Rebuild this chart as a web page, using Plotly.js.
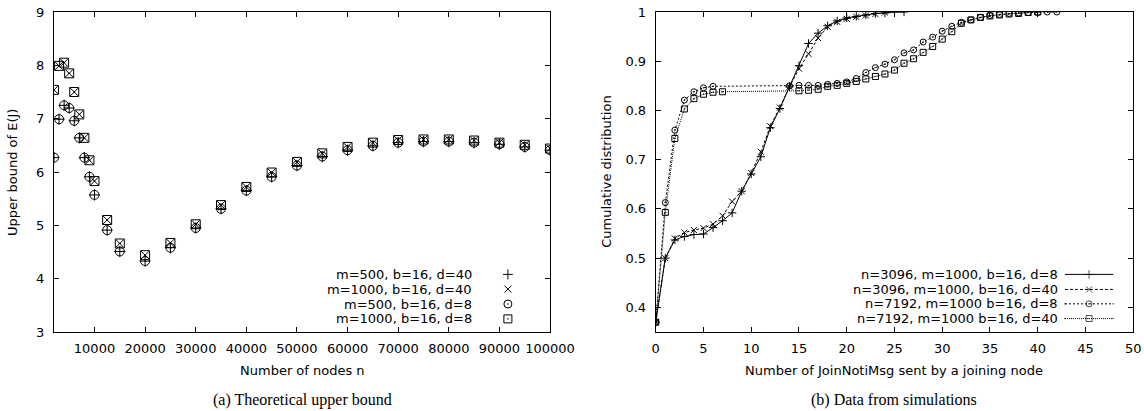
<!DOCTYPE html>
<html><head><meta charset="utf-8">
<script src="https://cdn.plot.ly/plotly-3.0.1.min.js"></script>
<style>html,body{margin:0;padding:0;background:#fff}#chart{width:1144px;height:411px}</style>
</head><body><div id="chart"></div>
<script>
// ---------- Left chart data: theoretical upper bound ----------
const nodesN = [2000,3000,4000,5000,6000,7000,8000,9000,10000,12500,15000,20000,25000,30000,35000,40000,45000,50000,55000,60000,65000,70000,75000,80000,85000,90000,95000,100000];
const ubM500D40  = [6.27,6.99,7.25,7.20,6.96,6.64,6.27,5.91,5.57,4.91,4.51,4.33,4.58,4.95,5.31,5.65,5.91,6.12,6.29,6.41,6.49,6.55,6.57,6.57,6.55,6.52,6.47,6.41];
const ubM1000D40 = [7.54,7.99,8.05,7.85,7.50,7.08,6.64,6.22,5.83,5.10,4.66,4.44,4.67,5.02,5.38,5.72,5.99,6.19,6.35,6.47,6.55,6.60,6.61,6.61,6.59,6.55,6.51,6.44];
const ubM500D8   = [6.27,6.99,7.25,7.20,6.96,6.64,6.27,5.91,5.57,4.91,4.51,4.33,4.58,4.95,5.31,5.65,5.91,6.12,6.29,6.41,6.49,6.55,6.57,6.57,6.55,6.52,6.47,6.41];
const ubM1000D8  = [7.54,7.99,8.05,7.85,7.50,7.08,6.64,6.22,5.83,5.10,4.66,4.44,4.67,5.02,5.38,5.72,5.99,6.19,6.35,6.47,6.55,6.60,6.61,6.61,6.59,6.55,6.51,6.44];
const leftNames = ['m=500, b=16, d=40','m=1000, b=16, d=40','m=500, b=16, d=8','m=1000, b=16, d=8'];
const leftTicksX = [10000,20000,30000,40000,50000,60000,70000,80000,90000,100000];
const leftTicksY = [3,4,5,6,7,8,9];

// ---------- Right chart data: simulations ----------
const msgX_3096_d8  = [0,1,2,3,4,5,6,7,8,9,10,11,12,13,14,15,16,17,18,19,20,21,22,23,24,25,26];
const cdf_3096_d8   = [0.37,0.50,0.537,0.544,0.548,0.549,0.562,0.576,0.592,0.636,0.671,0.706,0.765,0.804,0.848,0.891,0.936,0.957,0.972,0.982,0.988,0.991,0.994,0.997,0.998,1.0,1.0];
const msgX_3096_d40 = [0,1,2,3,4,5,6,7,8,9,10,11,12,13,14,15,16,17,18,19,20,21,22,23,24];
const cdf_3096_d40  = [0.37,0.50,0.54,0.552,0.557,0.561,0.569,0.586,0.615,0.636,0.673,0.716,0.768,0.806,0.848,0.885,0.915,0.947,0.970,0.980,0.986,0.990,0.993,0.996,0.999];
const msgX_7192_d8  = [0,1,2,3,4,5,6,14,15,16,17,18,19,20,21,22,23,24,25,26,27,28,29,30,31,32,33,34,35,36,37,38,39,40,41,42];
const cdf_7192_d8   = [0.37,0.613,0.760,0.821,0.838,0.846,0.849,0.850,0.851,0.851,0.851,0.853,0.855,0.858,0.865,0.877,0.887,0.894,0.903,0.917,0.923,0.939,0.949,0.961,0.971,0.979,0.984,0.989,0.993,0.995,0.997,0.998,0.999,0.999,1.0,1.0];
const msgX_7192_d40 = [0,1,2,3,4,5,6,7,15,16,17,18,19,20,21,22,23,24,25,26,27,28,29,30,31,32,33,34,35,36,37,38,39,40];
const cdf_7192_d40  = [0.37,0.593,0.743,0.803,0.824,0.833,0.837,0.838,0.840,0.841,0.843,0.849,0.851,0.855,0.859,0.864,0.869,0.874,0.882,0.896,0.905,0.918,0.930,0.945,0.960,0.977,0.984,0.989,0.992,0.994,0.996,0.997,0.999,1.0];
const rightNames = ['n=3096, m=1000, b=16, d=8','n=3096, m=1000, b=16, d=40','n=7192, m=1000 b=16, d=8','n=7192, m=1000 b=16, d=40'];
const rightTicksX = [0,5,10,15,20,25,30,35,40,45,50];
const rightTicksY = [0.4,0.5,0.6,0.7,0.8,0.9,1];

// ---------- styling ----------
const FONT = 'DejaVu Sans';
const leftRange = {x:[2000,100000], y:[3,9]};
const rightRange = {x:[0,50], y:[0.35,1]};
const leftStyles = [
  {symbol:'cross-thin-open', size:8},
  {symbol:'x-thin-open', size:8},
  {symbol:'circle-open-dot', size:9},
  {symbol:'square-open-dot', size:9}
];
const rightStyles = [
  {symbol:'cross-thin-open', size:6, dash:'solid', lw:1},
  {symbol:'x-thin-open', size:6, dash:'3px,2px', lw:1},
  {symbol:'circle-open-dot', size:6, dash:'2px,2px', lw:1},
  {symbol:'square-open-dot', size:6, dash:'1px,1px', lw:1}
];
const legRowsL = [0.180,0.134,0.0875,0.041];
const legRowsR = [0.180,0.133,0.088,0.042];

const traces = [];
const leftSeries = [ubM500D40, ubM1000D40, ubM500D8, ubM1000D8];
leftSeries.forEach((ys,i)=>{
  traces.push({x:nodesN, y:ys, xaxis:'x', yaxis:'y', mode:'markers', type:'scatter', showlegend:false,
    marker:{symbol:leftStyles[i].symbol, size:leftStyles[i].size, color:'#000', line:{color:'#000', width:1}}});
});
const rightX = [msgX_3096_d8, msgX_3096_d40, msgX_7192_d8, msgX_7192_d40];
const rightY = [cdf_3096_d8, cdf_3096_d40, cdf_7192_d8, cdf_7192_d40];
rightX.forEach((xs,i)=>{
  const s = rightStyles[i];
  traces.push({x:xs, y:rightY[i], xaxis:'x2', yaxis:'y2', mode:'lines+markers', type:'scatter', showlegend:false,
    line:{color:'#000', width:s.lw, dash:s.dash},
    marker:{symbol:s.symbol, size:s.size, color:'#000', line:{color:'#000', width:1}}});
});

// legend keys (gnuplot style: text then symbol)
const lerp = (r,f)=>r[0]+f*(r[1]-r[0]);
const annotations = [];
leftNames.forEach((name,i)=>{
  annotations.push({xref:'x domain', yref:'y domain', x:0.847, y:legRowsL[i], xanchor:'right', yanchor:'middle',
    text:name, showarrow:false, font:{family:FONT, size:13, color:'#000'}});
  traces.push({x:[lerp(leftRange.x,0.915)], y:[lerp(leftRange.y,legRowsL[i])], xaxis:'x', yaxis:'y', mode:'markers', showlegend:false,
    marker:{symbol:leftStyles[i].symbol, size:leftStyles[i].size-1, color:'#000', line:{color:'#000', width:1}}});
});
rightNames.forEach((name,i)=>{
  const s = rightStyles[i];
  annotations.push({xref:'x2 domain', yref:'y2 domain', x:0.8466, y:legRowsR[i], xanchor:'right', yanchor:'middle',
    text:name, showarrow:false, font:{family:FONT, size:13, color:'#000'}});
  const yy = lerp(rightRange.y, legRowsR[i]);
  traces.push({x:[lerp(rightRange.x,0.857), lerp(rightRange.x,0.9075), lerp(rightRange.x,0.958)], y:[yy,yy,yy],
    xaxis:'x2', yaxis:'y2', mode:'lines+markers', showlegend:false,
    line:{color:'#000', width:s.lw, dash:s.dash},
    marker:{symbol:s.symbol, size:[0,s.size,0], color:'#000', line:{color:'#000', width:1}}});
});

// axis titles and captions
annotations.push({xref:'x domain', yref:'paper', x:0.5, y:0, yshift:-38, xanchor:'center', yanchor:'middle', text:'Number of nodes n', showarrow:false, font:{family:FONT,size:13,color:'#000'}});
annotations.push({xref:'x2 domain', yref:'paper', x:0.5, y:0, yshift:-38, xanchor:'center', yanchor:'middle', text:'Number of JoinNotiMsg sent by a joining node', showarrow:false, font:{family:FONT,size:13,color:'#000'}});
annotations.push({xref:'x domain', yref:'y domain', x:0, y:0.5, xshift:-42, textangle:-90, xanchor:'center', yanchor:'middle', text:'Upper bound of E(J)', showarrow:false, font:{family:FONT,size:13,color:'#000'}});
annotations.push({xref:'x2 domain', yref:'y2 domain', x:0, y:0.5, xshift:-50, textangle:-90, xanchor:'center', yanchor:'middle', text:'Cumulative distribution', showarrow:false, font:{family:FONT,size:13,color:'#000'}});
annotations.push({xref:'x domain', yref:'paper', x:0.5, y:0, yshift:-68, xanchor:'center', yanchor:'middle', text:'(a) Theoretical upper bound', showarrow:false, font:{family:'Liberation Serif',size:16,color:'#000'}});
annotations.push({xref:'x2 domain', yref:'paper', x:0.5, y:0, yshift:-68, xanchor:'center', yanchor:'middle', text:'(b) Data from simulations', showarrow:false, font:{family:'Liberation Serif',size:16,color:'#000'}});

const axCommon = {showline:true, mirror:'allticks', linecolor:'#000', linewidth:1, ticks:'inside', ticklen:5, tickwidth:1, tickcolor:'#000',
  showgrid:false, zeroline:false, tickfont:{family:FONT, size:13, color:'#000'}, fixedrange:true};

const layout = {
  width:1144, height:411, paper_bgcolor:'#fff', plot_bgcolor:'#fff',
  margin:{l:0, r:0, t:12, b:79},
  showlegend:false,
  xaxis:Object.assign({}, axCommon, {domain:[0.0472,0.4808], range:leftRange.x, tickmode:'array', tickvals:leftTicksX, ticktext:leftTicksX.map(String), anchor:'y', ticklabelstandoff:4}),
  yaxis:Object.assign({}, axCommon, {domain:[0,1], range:leftRange.y, tickmode:'array', tickvals:leftTicksY, ticktext:leftTicksY.map(String), anchor:'x', ticklabelstandoff:6}),
  xaxis2:Object.assign({}, axCommon, {domain:[0.5732,0.9906], range:rightRange.x, tickmode:'array', tickvals:rightTicksX, ticktext:rightTicksX.map(String), anchor:'y2', ticklabelstandoff:4}),
  yaxis2:Object.assign({}, axCommon, {domain:[0,1], range:rightRange.y, tickmode:'array', tickvals:rightTicksY, ticktext:rightTicksY.map(String), anchor:'x2', ticklabelstandoff:6}),
  annotations:annotations
};
Plotly.newPlot('chart', traces, layout, {displayModeBar:false, staticPlot:true});
</script>
</body></html>
